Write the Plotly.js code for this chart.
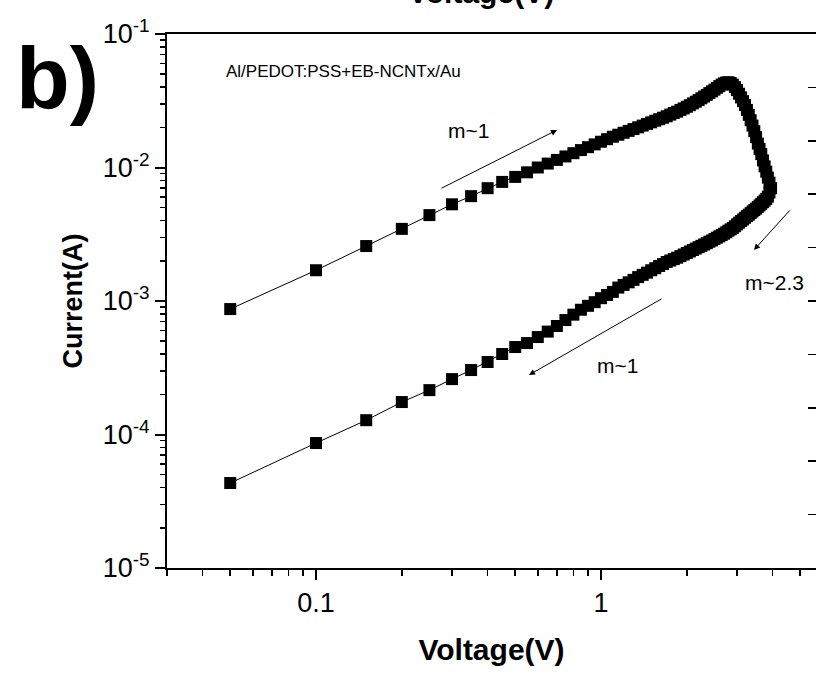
<!DOCTYPE html>
<html>
<head>
<meta charset="utf-8">
<script src="https://cdn.plot.ly/plotly-3.0.1.min.js"></script>
<style>
html,body{margin:0;padding:0;background:#fff;overflow:hidden;}
#chart{width:816px;height:675px;}
</style>
</head>
<body>
<div id="chart"></div>
<script>
// Forward sweep (0.05 V -> 3.95 V)
const forwardV = [0.05,0.10,0.15,0.20,0.25,0.30,0.35,0.40,0.45,0.50,0.55,0.60,0.65,0.70,0.75,0.80,0.85,0.90,0.95,1.00,
  1.05,1.10,1.15,1.20,1.25,1.30,1.35,1.40,1.45,1.50,1.55,1.60,1.65,1.70,1.75,1.80,1.85,1.90,1.95,2.00,
  2.05,2.10,2.15,2.20,2.25,2.30,2.35,2.40,2.45,2.50,2.55,2.60,2.65,2.70,2.75,2.80,2.85,2.90,2.95,3.00,
  3.05,3.10,3.15,3.20,3.25,3.30,3.35,3.40,3.45,3.50,3.55,3.60,3.65,3.70,3.75,3.80,3.85,3.90,3.95];
const forwardI = [8.7e-4,1.70e-3,2.58e-3,3.47e-3,4.40e-3,5.30e-3,6.1e-3,7.0e-3,7.8e-3,8.5e-3,9.2e-3,1.0e-2,1.07e-2,1.14e-2,1.21e-2,1.28e-2,1.35e-2,1.42e-2,1.49e-2,1.56e-2,
  1.63e-2,1.70e-2,1.76e-2,1.82e-2,1.88e-2,1.94e-2,2.00e-2,2.06e-2,2.12e-2,2.18e-2,2.24e-2,2.30e-2,2.36e-2,2.42e-2,2.49e-2,2.56e-2,2.62e-2,2.70e-2,2.77e-2,2.85e-2,
  2.93e-2,3.02e-2,3.11e-2,3.20e-2,3.30e-2,3.40e-2,3.50e-2,3.61e-2,3.72e-2,3.83e-2,3.95e-2,4.07e-2,4.18e-2,4.27e-2,4.33e-2,4.35e-2,4.30e-2,4.18e-2,4.00e-2,3.80e-2,
  3.57e-2,3.35e-2,3.14e-2,2.94e-2,2.70e-2,2.48e-2,2.26e-2,2.06e-2,1.87e-2,1.69e-2,1.51e-2,1.38e-2,1.26e-2,1.13e-2,1.02e-2,9.3e-3,8.4e-3,7.7e-3,7.0e-3];
// Reverse sweep (3.90 V -> 0.05 V)
const reverseV = [3.90,3.85,3.80,3.75,3.70,3.65,3.60,3.55,3.50,3.45,3.40,3.35,3.30,3.25,3.20,3.15,3.10,3.05,3.00,2.95,
  2.90,2.85,2.80,2.75,2.70,2.65,2.60,2.55,2.50,2.45,2.40,2.35,2.30,2.25,2.20,2.15,2.10,2.05,2.00,1.95,
  1.90,1.85,1.80,1.75,1.70,1.65,1.60,1.55,1.50,1.45,1.40,1.35,1.30,1.25,1.20,1.15,1.10,1.05,1.00,0.95,
  0.90,0.85,0.80,0.75,0.70,0.65,0.60,0.55,0.50,0.45,0.40,0.35,0.30,0.25,0.20,0.15,0.10,0.05];
const reverseI = [6.5e-3,6.05e-3,5.82e-3,5.65e-3,5.5e-3,5.35e-3,5.2e-3,5.05e-3,4.92e-3,4.8e-3,4.68e-3,4.55e-3,4.43e-3,4.32e-3,4.2e-3,4.08e-3,3.97e-3,3.86e-3,3.75e-3,3.63e-3,
  3.52e-3,3.44e-3,3.36e-3,3.27e-3,3.19e-3,3.12e-3,3.05e-3,2.98e-3,2.91e-3,2.84e-3,2.78e-3,2.71e-3,2.65e-3,2.59e-3,2.53e-3,2.47e-3,2.41e-3,2.35e-3,2.29e-3,2.23e-3,
  2.17e-3,2.11e-3,2.06e-3,2.01e-3,1.96e-3,1.89e-3,1.83e-3,1.76e-3,1.70e-3,1.63e-3,1.57e-3,1.51e-3,1.44e-3,1.38e-3,1.32e-3,1.26e-3,1.17e-3,1.11e-3,1.05e-3,9.8e-4,
  9.2e-4,8.6e-4,7.9e-4,7.2e-4,6.5e-4,5.9e-4,5.37e-4,4.84e-4,4.52e-4,4.01e-4,3.49e-4,3.04e-4,2.60e-4,2.15e-4,1.75e-4,1.28e-4,8.63e-5,4.33e-5];

const xTickVals = [0.1, 1];
const xTickText = ['0.1', '1'];
const yTickVals = [1e-5, 1e-4, 1e-3, 1e-2, 1e-1];
const yTickText = ['10<sup>-5</sup>','10<sup>-4</sup>','10<sup>-3</sup>','10<sup>-2</sup>','10<sup>-1</sup>'];
const sampleLabel = 'Al/PEDOT:PSS+EB-NCNTx/Au';
const panelLabel = 'b)';
const slopeLabels = ['m~1', 'm~2.3', 'm~1'];

// minor tick positions (2..9 times each decade)
const xMinor = [], yMinor = [];
[0.01, 0.1, 1].forEach(d => { for (let k = 2; k <= 9; k++) xMinor.push(k * d); });
[1e-5, 1e-4, 1e-3, 1e-2].forEach(d => { for (let k = 2; k <= 9; k++) yMinor.push(k * d); });

const font = 'Arial, "Liberation Sans", sans-serif';

const trace = {
  x: forwardV.concat(reverseV),
  y: forwardI.concat(reverseI),
  type: 'scatter',
  mode: 'lines+markers',
  line: {color: '#000', width: 1},
  marker: {symbol: 'square', size: 12, color: '#000'},
  hoverinfo: 'skip',
  showlegend: false
};
// empty trace so the neighbouring panel's axis ticks (right edge) are drawn
const edgeAxis = {x: [], y: [], type: 'scatter', mode: 'markers', yaxis: 'y2', showlegend: false, hoverinfo: 'skip'};

// plot area in pixels: left 167, right 816, top 34, bottom 568
const L = 167, R = 816, T = 34, B = 568;
const px = v => (v - L) / (R - L);
const py = v => (B - v) / (B - T);

const layout = {
  width: 816, height: 675,
  margin: {l: L, r: 816 - R, t: T, b: 675 - B, pad: 0},
  paper_bgcolor: '#fff', plot_bgcolor: '#fff',
  font: {family: font, color: '#000'},
  showlegend: false,
  xaxis: {
    type: 'log',
    range: [Math.log10(0.03), 0.7543],
    tickmode: 'array', tickvals: xTickVals, ticktext: xTickText,
    tickfont: {size: 27, family: font, color: '#000'},
    ticks: 'outside', ticklen: 10, tickwidth: 2, tickcolor: '#000',
    minor: {tickmode: 'array', tickvals: xMinor, ticks: 'outside', ticklen: 6, tickwidth: 1.5, tickcolor: '#000', showgrid: false},
    showline: true, linecolor: '#000', linewidth: 2, mirror: true,
    showgrid: false, zeroline: false,
    title: {text: '<b>Voltage(V)</b>', font: {size: 30, family: font, color: '#000'}, standoff: 22}
  },
  yaxis: {
    type: 'log',
    range: [-5, -1],
    tickmode: 'array', tickvals: yTickVals, ticktext: yTickText,
    tickfont: {size: 27, family: font, color: '#000'},
    ticks: 'outside', ticklen: 10, tickwidth: 2, tickcolor: '#000',
    minor: {tickmode: 'array', tickvals: yMinor, ticks: 'outside', ticklen: 5, tickwidth: 1.5, tickcolor: '#000', showgrid: false},
    showline: true, linecolor: '#000', linewidth: 2, mirror: false,
    showgrid: false, zeroline: false,
    title: {text: '<b>Current(A)</b>', font: {size: 27, family: font, color: '#000'}, standoff: 12}
  },
  yaxis2: {
    overlaying: 'y', side: 'right', anchor: 'x', range: [0, 10], tickmode: 'linear', tick0: 0, dtick: 1,
    ticks: 'inside', ticklen: 8, tickwidth: 1.5, tickcolor: '#000',
    showticklabels: false, showline: false, showgrid: false, zeroline: false
  },
  annotations: [
    {xref: 'paper', yref: 'paper', x: px(58), y: py(78), text: '<b>' + panelLabel + '</b>', showarrow: false,
     font: {size: 88, family: font, color: '#000'}, xanchor: 'center', yanchor: 'middle'},
    {xref: 'paper', yref: 'paper', x: px(481), y: py(-8), text: '<b>Voltage(V)</b>', showarrow: false,
     font: {size: 30, family: font, color: '#000'}, xanchor: 'center', yanchor: 'middle'},
    {xref: 'paper', yref: 'paper', x: px(224), y: py(72), text: sampleLabel, showarrow: false,
     font: {size: 17, family: font, color: '#000'}, xanchor: 'left', yanchor: 'middle'},
    // arrows
    {xref: 'paper', yref: 'paper', x: px(557), y: py(130), ax: -117, ay: 59, text: '', showarrow: true,
     arrowhead: 2, arrowsize: 1.2, arrowwidth: 1, arrowcolor: '#000'},
    {xref: 'paper', yref: 'paper', x: px(754), y: py(250), ax: 37, ay: -41, text: '', showarrow: true,
     arrowhead: 2, arrowsize: 1.2, arrowwidth: 1, arrowcolor: '#000'},
    {xref: 'paper', yref: 'paper', x: px(529), y: py(375), ax: 134, ay: -77, text: '', showarrow: true,
     arrowhead: 2, arrowsize: 1.2, arrowwidth: 1, arrowcolor: '#000'},
    // slope labels
    {xref: 'paper', yref: 'paper', x: px(468), y: py(130), text: slopeLabels[0], showarrow: false,
     font: {size: 21, family: font, color: '#000'}, xanchor: 'center', yanchor: 'middle'},
    {xref: 'paper', yref: 'paper', x: px(774), y: py(282), text: slopeLabels[1], showarrow: false,
     font: {size: 21, family: font, color: '#000'}, xanchor: 'center', yanchor: 'middle'},
    {xref: 'paper', yref: 'paper', x: px(617), y: py(365), text: slopeLabels[2], showarrow: false,
     font: {size: 21, family: font, color: '#000'}, xanchor: 'center', yanchor: 'middle'}
  ]
};

Plotly.newPlot('chart', [trace, edgeAxis], layout, {displayModeBar: false, staticPlot: true});
</script>
</body>
</html>
